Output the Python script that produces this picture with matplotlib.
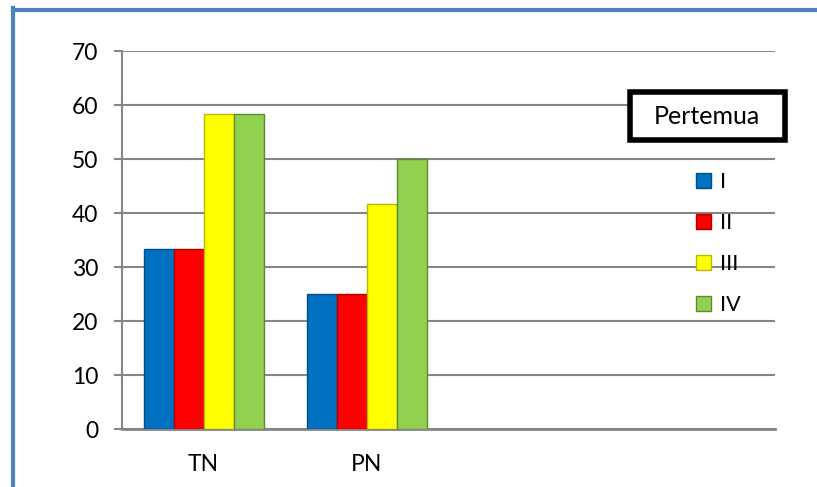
import matplotlib.pyplot as plt
import numpy as np
from matplotlib.patches import Rectangle
from matplotlib.lines import Line2D

# data (last two categories are empty)
categories = ["TN", "PN", "", ""]
series = ["I", "II", "III", "IV"]
val_I = [33.3, 25, np.nan, np.nan]
val_II = [33.3, 25, np.nan, np.nan]
val_III = [58.3, 41.7, np.nan, np.nan]
val_IV = [58.3, 50, np.nan, np.nan]
colors = ["#0070C0", "#FF0000", "#FFFF00", "#92D050"]
edges = ["#00508A", "#B00000", "#B8B800", "#5E8A30"]

plt.rcParams['font.family'] = ['Lato', 'DejaVu Sans']

W, H = 817, 487
fig = plt.figure(figsize=(W / 100, H / 100), dpi=100)
fig.patch.set_facecolor("white")

def fx(px):
    return px / W

def fy(py):
    return 1 - py / H

ax = fig.add_axes([fx(122), fy(429), fx(775) - fx(122), fy(51) - fy(429)])

x = np.arange(len(categories))
w = 0.1835
for i, vals in enumerate([val_I, val_II, val_III, val_IV]):
    ax.bar(x + (i - 1.5) * w, vals, width=w, color=colors[i],
           edgecolor=edges[i], linewidth=1, label=series[i], zorder=3)

ax.set_xlim(-0.5, 3.5)
ax.set_ylim(0, 70)
ax.set_yticks(range(0, 71, 10))
ax.set_xticks(x)
ax.set_xticklabels(categories)

ax.grid(axis="y", color="#868686", linewidth=1.5, zorder=0)
ax.set_axisbelow(True)
for s in ["top", "right"]:
    ax.spines[s].set_visible(False)
ax.spines["left"].set_color("#868686")
ax.spines["left"].set_linewidth(1.5)
ax.spines["bottom"].set_color("#868686")
ax.spines["bottom"].set_linewidth(2)

ax.tick_params(axis="y", length=6, width=1.5, color="#868686", pad=11,
               labelsize=16.5, labelcolor="black")
ax.tick_params(axis="x", length=0, pad=18, labelsize=16.5, labelcolor="black")

# legend entries
leg = ax.legend(loc="center left", bbox_to_anchor=(fx(696), fy(243.5)),
                bbox_transform=fig.transFigure, frameon=False, fontsize=15.5,
                handlelength=0.7, handleheight=0.7, handletextpad=0.4,
                labelspacing=0.98, borderpad=0, borderaxespad=0)

# legend title box
fig.patches.append(Rectangle((fx(630), fy(140)), fx(785) - fx(630), fy(92) - fy(140),
                             transform=fig.transFigure, facecolor="white",
                             edgecolor="black", linewidth=4, zorder=5))
fig.text(fx(707), fy(116), "Pertemua", ha="center", va="center", fontsize=18,
         zorder=6)

# blue frame on top and left
fig.lines.append(Line2D([fx(13), 1], [fy(9.5), fy(9.5)], transform=fig.transFigure,
                        color="#4F81BD", linewidth=3))
fig.lines.append(Line2D([fx(13), fx(13)], [fy(8), 0], transform=fig.transFigure,
                        color="#4F81BD", linewidth=3))

fig.savefig("out.png", dpi=100)
